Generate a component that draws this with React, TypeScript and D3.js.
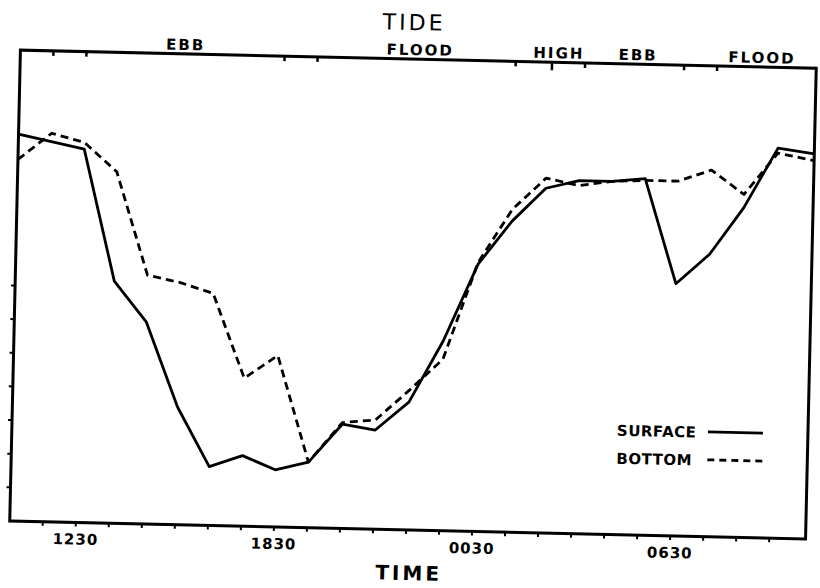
import React from 'react';
import * as d3 from 'd3';

// hours since midnight of day 1 (hourly readings on the :30 ticks, last one at the right edge)
const hours = [10.5, 11.5, 12.5, 13.5, 14.5, 15.5, 16.5, 17.5, 18.5, 19.5, 20.5, 21.5, 22.5,
    23.5, 24.5, 25.5, 26.5, 27.5, 28.5, 29.5, 30.5, 31.5, 32.5, 33.5, 34.6];

const surface = [11.5, 11.3, 11.1, 7.2, 6.0, 3.5, 1.75, 2.1, 1.7, 1.95, 3.1, 2.95, 3.8,
    5.65, 7.95, 9.25, 10.25, 10.5, 10.5, 10.6, 7.5, 8.4, 9.8, 11.6, 11.45];

const bottom = [10.75, 11.55, 11.3, 10.45, 7.4, 7.2, 6.9, 4.4, 5.1, 1.95, 3.15, 3.25, 4.15,
    5.1, 8.0, 9.6, 10.55, 10.35, 10.5, 10.55, 10.55, 10.9, 10.2, 11.45, 11.25];

const timeLabels = ['1230', '1830', '0030', '0630'];
const timeLabelHours = [12.5, 18.5, 24.5, 30.5];

const tideTickHours = [11.5, 12.5, 18.5, 19.5, 25.5, 26.6, 27.6, 30.6, 31.6];
const tideHighHour = 26.6;
const tideLabels = ['EBB', 'FLOOD', 'HIGH', 'EBB', 'FLOOD'];
const tideLabelHours = [15.5, 22.6, 26.8, 29.2, 32.95];

const yTicks = [1, 2, 3, 4, 5, 6, 7];

const legendNames = ['SURFACE', 'BOTTOM'];

const FONT = '"DejaVu Sans", sans-serif';

export default function App() {
    const width = 820;
    const height = 588;
    const left = 12, right = 808, top = 59, base = 530;

    const x = d3.scaleLinear().domain([10.5, 34.6]).range([left, right]);
    const y = d3.scaleLinear().domain([0, 14]).range([base, top]);

    const line = d3.line<number>()
        .x((d, i) => x(hours[i]))
        .y(d => y(d));

    const hourTicks = d3.range(11.5, 34, 1);

    return (
        <svg width={width} height={height}
            style={{ position: 'absolute', left: 0, top: 0, background: '#fff' }}>
            <g transform="translate(3,0) rotate(1.3 406 294)" fontFamily={FONT} fill="#000">
                {/* title */}
                <text x={405} y={30} textAnchor="middle" fontSize={22} letterSpacing={3}>TIDE</text>

                {/* tide labels above top edge */}
                {tideLabels.map((t, i) => (
                    <text key={'tl' + i} x={x(tideLabelHours[i])} y={55} textAnchor="middle"
                        fontSize={15} fontWeight="bold" letterSpacing={2}>{t}</text>
                ))}

                {/* frame */}
                <rect x={left} y={top} width={right - left} height={base - top}
                    fill="none" stroke="#000" strokeWidth={3} />

                {/* tide ticks (inside, from top) */}
                {tideTickHours.map((h, i) => (
                    <line key={'tt' + i} x1={x(h)} x2={x(h)} y1={top}
                        y2={top + (h === tideHighHour ? 8 : 5)} stroke="#000" strokeWidth={2.5} />
                ))}

                {/* hourly ticks on bottom */}
                {hourTicks.map((h, i) => (
                    <line key={'ht' + i} x1={x(h)} x2={x(h)} y1={base} y2={base + 4}
                        stroke="#000" strokeWidth={2} />
                ))}
                {timeLabels.map((t, i) => (
                    <text key={'tx' + i} x={x(timeLabelHours[i])} y={552} textAnchor="middle"
                        fontSize={15} fontWeight="bold" letterSpacing={1}>{t}</text>
                ))}
                <text x={412} y={580} textAnchor="middle" fontSize={20} fontWeight="bold"
                    letterSpacing={3}>TIME</text>

                {/* left ticks */}
                {yTicks.map((v, i) => (
                    <line key={'yt' + i} x1={left - 4} x2={left} y1={y(v)} y2={y(v)}
                        stroke="#000" strokeWidth={2} />
                ))}

                {/* series */}
                <path d={line(bottom) || ''} fill="none" stroke="#000" strokeWidth={2.8}
                    strokeDasharray="8 5" strokeLinejoin="round" />
                <path d={line(surface) || ''} fill="none" stroke="#000" strokeWidth={2.8}
                    strokeLinejoin="round" />

                {/* legend */}
                {legendNames.map((n, i) => (
                    <g key={'lg' + i} transform={`translate(617, ${425 + i * 28})`}>
                        <text x={0} y={6} fontSize={15} fontWeight="bold" letterSpacing={0.5}>{n}</text>
                        <line x1={91} x2={146} y1={0} y2={0} stroke="#000" strokeWidth={2.8}
                            strokeDasharray={i === 1 ? '7 5' : undefined} />
                    </g>
                ))}
            </g>
        </svg>
    );
}
